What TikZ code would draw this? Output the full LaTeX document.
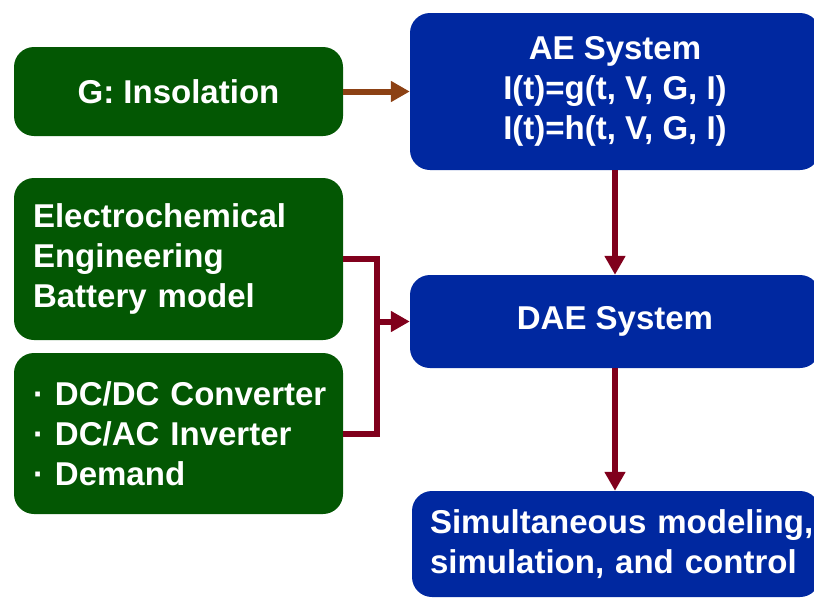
\documentclass[tikz,border=0pt]{standalone}
\usepackage{fontspec}
\setmainfont{Liberation Sans}
\usetikzlibrary{arrows.meta}
\definecolor{boxgreen}{RGB}{3,87,3}
\definecolor{boxblue}{RGB}{0,40,160}
\definecolor{arrred}{RGB}{128,0,28}
\definecolor{arrbrown}{RGB}{140,65,20}
\tikzset{
  gbox/.style={fill=boxgreen, draw=none, rounded corners=20pt, text=white,
    font=\fontsize{33}{40}\selectfont\bfseries, inner sep=0pt},
  bbox/.style={fill=boxblue, draw=none, rounded corners=20pt, text=white,
    font=\fontsize{33}{40}\selectfont\bfseries, inner sep=0pt},
  conn/.style={line width=6pt, arrred, -{Triangle[length=19pt,width=20pt]}},
  connplain/.style={line width=6pt, arrred},
}
\begin{document}
\begin{tikzpicture}[x=1pt,y=-1pt]
\useasboundingbox (0,0) rectangle (814,598);
\begin{scope}
\clip (0,0) rectangle (814,598);
\node[gbox, minimum width=329pt, minimum height=89pt] (G) at (178.5,91.5) {G: Insolation};
\node[gbox, minimum width=329pt, minimum height=162pt, text width=291pt, align=left, inner xsep=19pt] (Elec) at (178.5,259) {\mbox{Electrochemical}\\\mbox{Engineering}\\\mbox{Battery model}};
\node[gbox, minimum width=329pt, minimum height=161pt, text width=291pt, align=left, inner xsep=19pt] (DC) at (178.5,433.5) {\mbox{· DC/DC Converter}\\\mbox{· DC/AC Inverter}\\\mbox{· Demand}};
\node[bbox, minimum width=410pt, minimum height=157pt, align=center] (AE) at (615,91.5) {AE System\\I(t)=g(t, V, G, I)\\I(t)=h(t, V, G, I)};
\node[bbox, minimum width=410pt, minimum height=93pt] (DAE) at (615,321.5) {DAE System};
\node[bbox, minimum width=408pt, minimum height=106pt, text width=372pt, align=left, inner xsep=18pt] (Sim) at (616,544) {\mbox{Simultaneous modeling,}\\\mbox{simulation, and control}};
\end{scope}
\draw[line width=6pt, arrbrown, -{Triangle[length=19pt,width=20pt]}] (G.east) -- (AE.west |- G.east);
\draw[conn] (AE.south) -- (DAE.north);
\draw[conn] (DAE.south) -- (Sim.north -| DAE.south);
\coordinate (m) at (377,321.5);
\draw[connplain] (Elec.east) -| (m) |- (DC.east);
\draw[conn] (m) -- (DAE.west);
\end{tikzpicture}
\end{document}
